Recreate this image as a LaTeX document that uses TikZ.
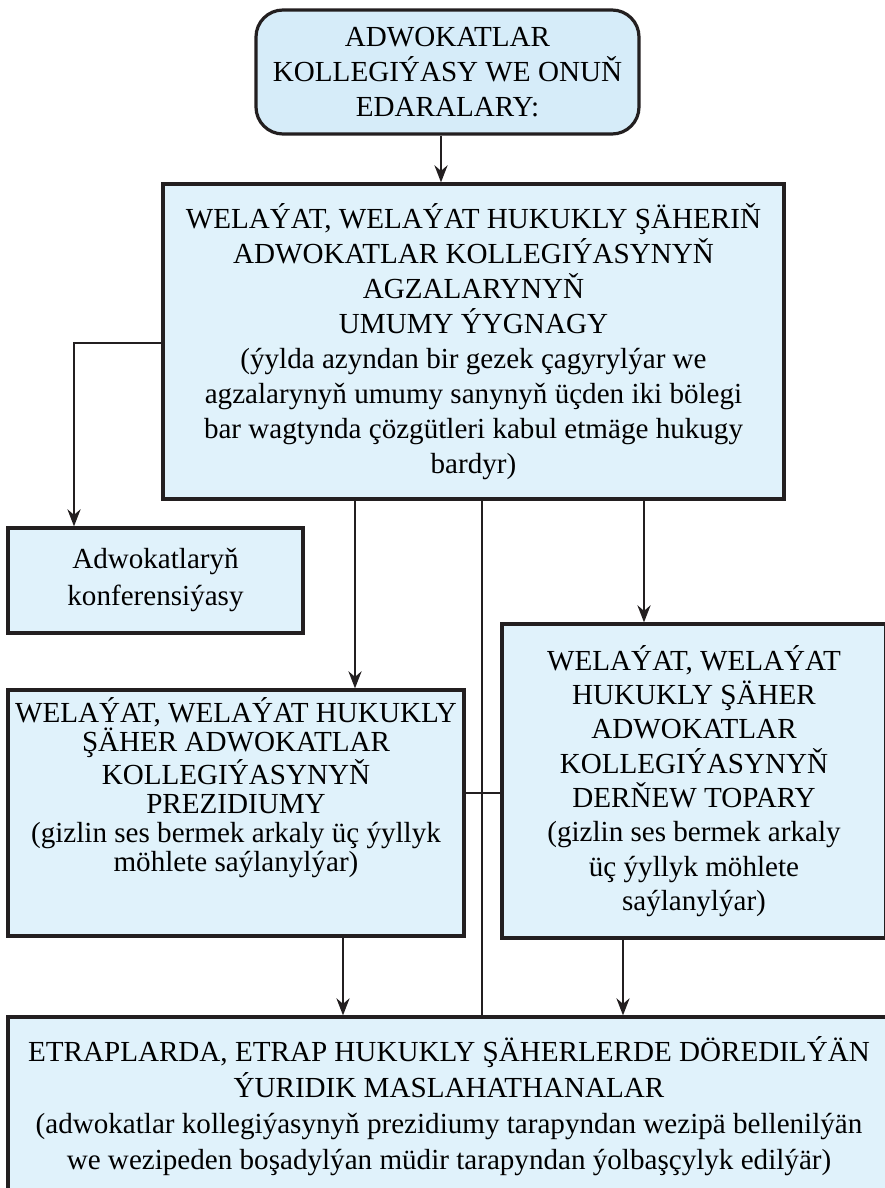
\documentclass[tikz,border=0pt]{standalone}
\usepackage{fontspec}
\setmainfont{Liberation Serif}
\usetikzlibrary{arrows.meta}
\definecolor{boxblue}{RGB}{224,242,251}
\definecolor{headblue}{RGB}{214,236,249}
\definecolor{inkline}{RGB}{35,31,32}
\tikzset{
  bluebox/.style={draw=inkline,line width=3.2pt,fill=boxblue,align=center,inner sep=0pt,
    font=\fontsize{29.1}{35}\selectfont},
  linkline/.style={draw=inkline,line width=2.9pt},
  arrowline/.style={linkline,-{Stealth[length=17pt,width=13pt]}}
}
\begin{document}
\begin{tikzpicture}[x=1pt,y=-1pt]
\path[use as bounding box,clip] (0,0) rectangle (885,1188);

\node [bluebox,fill=headblue,rounded corners=27pt,minimum width=383pt,minimum height=124pt] (head) at (447.5,72)
{ADWOKATLAR\\KOLLEGIÝASY WE ONUŇ\\EDARALARY:};

\node [bluebox,minimum width=621pt,minimum height=315pt] (general) at (473.5,341.5)
{WELAÝAT, WELAÝAT HUKUKLY ŞÄHERIŇ\\ADWOKATLAR KOLLEGIÝASYNYŇ\\AGZALARYNYŇ\\UMUMY ÝYGNAGY\\
(ýylda azyndan bir gezek çagyrylýar we\\agzalarynyň umumy sanynyň üçden iki bölegi\\
bar wagtynda çözgütleri kabul etmäge hukugy\\bardyr)};

\node [bluebox,font=\fontsize{29.1}{37}\selectfont,minimum width=295pt,minimum height=105pt] (conference) at (155.5,580.5)
{Adwokatlaryň\\konferensiýasy};

\node [bluebox,font=\fontsize{29.1}{29}\selectfont,minimum width=456pt,minimum height=246pt] (presidium) at (236,813)
{WELAÝAT, WELAÝAT HUKUKLY\\ŞÄHER ADWOKATLAR\\KOLLEGIÝASYNYŇ\\PREZIDIUMY\\
(gizlin ses bermek arkaly üç ýyllyk\\möhlete saýlanylýar)\\[28pt]\mbox{}};

\node [bluebox,font=\fontsize{29.1}{34.3}\selectfont,minimum width=384pt,minimum height=314pt] (inquiry) at (694,781)
{WELAÝAT, WELAÝAT\\HUKUKLY ŞÄHER\\ADWOKATLAR\\KOLLEGIÝASYNYŇ\\DERŇEW TOPARY\\
(gizlin ses bermek arkaly\\üç ýyllyk möhlete\\saýlanylýar)};

\node [bluebox,font=\fontsize{29.1}{36}\selectfont,minimum width=882pt,minimum height=178pt] (offices) at (449,1106)
{ETRAPLARDA, ETRAP HUKUKLY ŞÄHERLERDE DÖREDILÝÄN\\ÝURIDIK MASLAHATHANALAR\\
(adwokatlar kollegiýasynyň prezidiumy tarapyndan wezipä bellenilýän\\
we wezipeden boşadylýan müdir tarapyndan ýolbaşçylyk edilýär)};

\draw [arrowline] ([xshift=-6.5pt]head.south) -- ([xshift=-6.5pt]head.south |- general.north);
\draw [arrowline] ([yshift=-1.5pt]general.west) -| ([xshift=-81.5pt]conference.north);
\draw [arrowline] ([xshift=119pt]presidium.north |- general.south) -- ([xshift=119pt]presidium.north);
\draw [arrowline] ([xshift=-50pt]inquiry.north |- general.south) -- ([xshift=-50pt]inquiry.north);
\draw [linkline] ([xshift=33pt]offices.north |- general.south) -- ([xshift=33pt]offices.north);
\draw [linkline] (presidium.east |- 0,793) -- (inquiry.west |- 0,793);
\draw [arrowline] ([xshift=107pt]presidium.south) -- ([xshift=107pt]presidium.south |- offices.north);
\draw [arrowline] ([xshift=-71pt]inquiry.south) -- ([xshift=-71pt]inquiry.south |- offices.north);
\end{tikzpicture}
\end{document}
